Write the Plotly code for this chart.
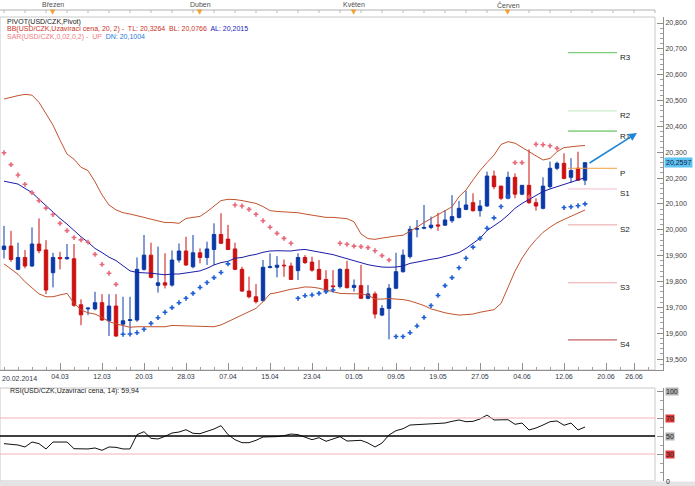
import numpy as np
import plotly.graph_objects as go

W, H = 695, 486

# ---------------- data ----------------
start_date = "2014-02-20"
opens = [19.924, 19.937, 19.847, 19.893, 19.860, 19.945, 19.922, 19.834, 19.893, 19.888,
         19.888, 19.710, 19.694, 19.694, 19.718, 19.648, 19.705, 19.635, 19.649, 19.651,
         19.847, 19.902, 19.785, 19.795, 19.786, 19.883, 19.918, 19.857, 19.911, 19.893,
         19.924, 19.982, 19.964, 19.926, 19.847, 19.763, 19.741, 19.726, 19.854, 19.855,
         19.863, 19.860, 19.842, 19.893, 19.875, 19.847, 19.808, 19.783, 19.780, 19.847,
         19.777, 19.784, 19.735, 19.752, 19.670, 19.696, 19.774, 19.838, 19.896, 20.002,
         20.006, 20.009, 20.019, 20.018, 20.035, 20.048, 20.079, 20.105, 20.074, 20.092,
         20.208, 20.169, 20.122, 20.203, 20.138, 20.172, 20.105, 20.083, 20.167, 20.238,
         20.257, 20.203, 20.238, 20.192]
highs = [20.015, 19.996, 19.950, 19.922, 20.009, 20.044, 19.960, 19.911, 19.915, 19.945,
         19.945, 19.731, 19.700, 19.760, 19.751, 19.751, 19.751, 19.741, 19.741, 19.893,
         19.980, 19.950, 19.935, 19.909, 19.920, 19.947, 19.973, 19.980, 19.928, 19.954,
         20.025, 20.064, 20.019, 19.950, 19.857, 19.819, 19.790, 19.883, 19.909, 19.898,
         19.885, 19.873, 19.909, 19.902, 19.896, 19.883, 19.844, 19.844, 19.851, 19.880,
         19.808, 19.864, 19.786, 19.761, 19.709, 19.790, 19.911, 19.924, 20.015, 20.038,
         20.096, 20.051, 20.066, 20.076, 20.134, 20.112, 20.151, 20.141, 20.115, 20.225,
         20.229, 20.170, 20.225, 20.218, 20.172, 20.311, 20.122, 20.203, 20.264, 20.264,
         20.296, 20.277, 20.302, 20.260]
lows = [19.889, 19.876, 19.844, 19.851, 19.857, 19.909, 19.751, 19.777, 19.847, 19.884,
        19.702, 19.631, 19.670, 19.689, 19.648, 19.589, 19.586, 19.606, 19.606, 19.644,
        19.842, 19.812, 19.757, 19.773, 19.780, 19.873, 19.860, 19.851, 19.870, 19.864,
        19.864, 19.945, 19.922, 19.844, 19.760, 19.735, 19.715, 19.722, 19.851, 19.816,
        19.818, 19.806, 19.806, 19.868, 19.838, 19.806, 19.760, 19.760, 19.773, 19.773,
        19.761, 19.732, 19.731, 19.657, 19.666, 19.576, 19.770, 19.834, 19.889, 19.971,
        20.002, 20.002, 19.996, 20.015, 20.027, 20.044, 20.076, 20.070, 20.051, 20.089,
        20.157, 20.115, 20.118, 20.122, 20.134, 20.100, 20.074, 20.079, 20.160, 20.231,
        20.195, 20.182, 20.190, 20.173]
closes = [19.937, 19.885, 19.893, 19.860, 19.945, 19.919, 19.767, 19.893, 19.888, 19.893,
          19.708, 19.671, 19.697, 19.718, 19.651, 19.705, 19.589, 19.648, 19.652, 19.847,
          19.902, 19.816, 19.795, 19.786, 19.883, 19.918, 19.864, 19.911, 19.893, 19.926,
          19.982, 19.948, 19.924, 19.847, 19.763, 19.741, 19.722, 19.855, 19.857, 19.863,
          19.861, 19.808, 19.893, 19.873, 19.844, 19.808, 19.764, 19.780, 19.847, 19.776,
          19.785, 19.735, 19.752, 19.674, 19.696, 19.774, 19.838, 19.902, 20.002, 20.005,
          20.009, 20.018, 20.015, 20.038, 20.051, 20.083, 20.096, 20.074, 20.092, 20.208,
          20.167, 20.122, 20.203, 20.138, 20.172, 20.105, 20.092, 20.169, 20.238, 20.257,
          20.199, 20.229, 20.192, 20.2597]

bb_upper = [20.506, 20.513, 20.519, 20.524, 20.521, 20.493, 20.451, 20.405, 20.347, 20.293,
            20.273, 20.242, 20.229, 20.186, 20.135, 20.096, 20.077, 20.066, 20.061, 20.053,
            20.048, 20.041, 20.033, 20.028, 20.028, 20.025, 20.044, 20.048, 20.052, 20.070,
            20.093, 20.113, 20.118, 20.117, 20.113, 20.108, 20.102, 20.090, 20.074, 20.071,
            20.070, 20.069, 20.066, 20.061, 20.057, 20.053, 20.048, 20.048, 20.046, 20.043,
            20.031, 19.984, 19.966, 19.963, 19.968, 19.973, 19.976, 19.979, 19.993, 20.010,
            20.028, 20.043, 20.059, 20.074, 20.089, 20.128, 20.154, 20.193, 20.229, 20.260,
            20.289, 20.330, 20.341, 20.335, 20.319, 20.302, 20.285, 20.270, 20.276, 20.302,
            20.318, 20.322, 20.324, 20.3264]
bb_middle = [20.188, 20.182, 20.177, 20.160, 20.144, 20.118, 20.092, 20.066, 20.044, 20.022,
             19.997, 19.973, 19.952, 19.928, 19.912, 19.894, 19.881, 19.860, 19.841, 19.835,
             19.834, 19.832, 19.829, 19.826, 19.829, 19.829, 19.833, 19.837, 19.841, 19.851,
             19.864, 19.873, 19.878, 19.890, 19.893, 19.900, 19.905, 19.913, 19.918, 19.919,
             19.918, 19.918, 19.922, 19.924, 19.919, 19.914, 19.909, 19.904, 19.896, 19.888,
             19.881, 19.873, 19.865, 19.860, 19.856, 19.855, 19.856, 19.860, 19.870, 19.875,
             19.881, 19.886, 19.890, 19.896, 19.904, 19.912, 19.928, 19.948, 19.967, 19.997,
             20.015, 20.034, 20.057, 20.083, 20.102, 20.118, 20.131, 20.148, 20.158, 20.167,
             20.178, 20.186, 20.193, 20.2015]
bb_lower = [19.868, 19.848, 19.828, 19.799, 19.774, 19.752, 19.741, 19.741, 19.748, 19.754,
            19.716, 19.690, 19.679, 19.674, 19.661, 19.645, 19.636, 19.628, 19.623, 19.625,
            19.625, 19.625, 19.625, 19.625, 19.630, 19.629, 19.628, 19.627, 19.625, 19.625,
            19.625, 19.632, 19.645, 19.658, 19.670, 19.683, 19.696, 19.722, 19.752, 19.757,
            19.765, 19.770, 19.774, 19.779, 19.778, 19.774, 19.767, 19.761, 19.754, 19.753,
            19.752, 19.752, 19.747, 19.732, 19.732, 19.734, 19.732, 19.730, 19.725, 19.717,
            19.707, 19.694, 19.686, 19.679, 19.674, 19.670, 19.672, 19.674, 19.681, 19.686,
            19.691, 19.715, 19.775, 19.840, 19.890, 19.930, 19.962, 19.990, 20.010, 20.027,
            20.040, 20.052, 20.064, 20.0766]
sar_values = [20.298, 20.252, 20.212, 20.176, 20.144, 20.113, 20.084, 20.059, 20.025, 19.997,
              19.970, 19.961, 19.952, 19.905, 19.866, 19.832, 19.789, 19.596, 19.597, 19.602,
              19.615, 19.638, 19.660, 19.681, 19.699, 19.718, 19.735, 19.754, 19.777, 19.796,
              19.815, 19.835, 19.868, 20.096, 20.092, 20.079, 20.060, 20.035, 20.010, 19.986,
              19.967, 19.948, 19.735, 19.745, 19.748, 19.754, 19.761, 19.767, 19.948, 19.944,
              19.937, 19.935, 19.931, 19.919, 19.900, 19.883, 19.587, 19.587, 19.602, 19.628,
              19.661, 19.707, 19.746, 19.784, 19.815, 19.853, 19.890, 19.933, 19.967, 20.006,
              20.046, 20.090, 20.128, 20.260, 20.260, 20.127, 20.331, 20.329, 20.325, 20.315,
              20.086, 20.089, 20.093, 20.1004]
rsi_values = [41.5, 41.1, 40.0, 37.8, 43.3, 41.5, 35.6, 43.3, 43.3, 43.3,
              35.9, 35.9, 35.6, 36.7, 34.1, 37.8, 37.4, 35.6, 35.6, 51.5,
              54.8, 47.4, 46.7, 49.6, 53.3, 54.4, 57.0, 53.0, 52.6, 55.2,
              57.8, 61.5, 51.5, 45.9, 42.6, 42.6, 45.2, 48.9, 48.9, 49.3,
              50.4, 52.2, 51.5, 48.9, 45.9, 48.1, 44.1, 46.7, 49.3, 44.4,
              45.2, 45.2, 42.2, 37.8, 42.2, 51.1, 55.9, 58.1, 62.2, 62.6,
              63.0, 63.3, 63.7, 64.4, 66.3, 67.8, 65.9, 66.3, 68.9, 73.3,
              67.8, 68.1, 68.1, 63.0, 64.4, 56.7, 58.9, 62.2, 65.9, 66.7,
              61.9, 64.4, 56.7, 59.94]
rsi_levels = [30, 50, 70]

pivot_names = ["R3", "R2", "R1", "P", "S1", "S2", "S3", "S4"]
pivot_values = [20.685, 20.460, 20.382, 20.238, 20.158, 20.019, 19.795, 19.574]

tick_dates = ["2014-02-20", "2014-03-04", "2014-03-12", "2014-03-20", "2014-03-28",
              "2014-04-07", "2014-04-15", "2014-04-23", "2014-05-01", "2014-05-09",
              "2014-05-19", "2014-05-27", "2014-06-04", "2014-06-12", "2014-06-20",
              "2014-06-26"]
tick_labels = ["20.02.2014", "04.03", "12.03", "20.03", "28.03", "07.04", "15.04", "23.04",
               "01.05", "09.05", "19.05", "27.05", "04.06", "12.06", "20.06", "26.06"]
month_names = ["Březen", "Duben", "Květen", "Červen"]
month_starts = ["2014-03-03", "2014-04-01", "2014-05-01", "2014-06-02"]

last_price = closes[-1]
legend_pivot = "PIVOT(USD/CZK,Pivot)"
legend_bb = "BB(USD/CZK,Uzavírací cena, 20, 2) -  TL: 20,3264  BL: 20,0766"
legend_bb_al = "AL: 20,2015"
legend_sar = "SAR(USD/CZK,0,02,0,2) -  UP"
legend_sar_dn = "DN: 20,1004"
rsi_title = "RSI(USD/CZK,Uzavírací cena, 14): 59,94"

# ---------------- helpers ----------------
def bidx(d):
    return int(np.busday_count(start_date, d))

def fx(p):
    return p / W

def fy(p):
    return 1 - p / H

n = len(closes)
x = list(range(n))

# pixel mapping of the reference: candle i at px 4 + 7 i ; price 20.8 at py 23, 258.5 px / unit
X_RANGE = [-4 / 7, (663 - 4) / 7]
Y_RANGE = [20.8 - (370 - 23) / 258.5, 20.8 + (23 - 17) / 258.5]
RSI_RANGE = [0, 50 + (436 - 388) / 0.9]

FONT = "Liberation Sans, Arial, sans-serif"

fig = go.Figure()

# Bollinger bands
fig.add_trace(go.Scatter(x=x, y=bb_upper, mode="lines", line=dict(color="#c2532e", width=1),
                         hoverinfo="skip", showlegend=False))
fig.add_trace(go.Scatter(x=x, y=bb_lower, mode="lines", line=dict(color="#c2532e", width=1),
                         hoverinfo="skip", showlegend=False))
fig.add_trace(go.Scatter(x=x, y=bb_middle, mode="lines", line=dict(color="#1c1ca8", width=1),
                         hoverinfo="skip", showlegend=False))

# Candles
fig.add_trace(go.Candlestick(
    x=x, open=opens, high=highs, low=lows, close=closes,
    increasing=dict(line=dict(color="#0a3aa8", width=1), fillcolor="#0a3aa8"),
    decreasing=dict(line=dict(color="#cc1111", width=1), fillcolor="#cc1111"),
    whiskerwidth=0, hoverinfo="skip", showlegend=False))

# Parabolic SAR
sar_dn = [s if s > c else None for s, c in zip(sar_values, closes)]
sar_up = [s if s <= c else None for s, c in zip(sar_values, closes)]
fig.add_trace(go.Scatter(x=x, y=sar_dn, mode="markers",
                         marker=dict(symbol="cross", size=4, color="#e8697a", line=dict(width=0)),
                         hoverinfo="skip", showlegend=False))
fig.add_trace(go.Scatter(x=x, y=sar_up, mode="markers",
                         marker=dict(symbol="cross", size=4, color="#1f5fd6", line=dict(width=0)),
                         hoverinfo="skip", showlegend=False))

# RSI
fig.add_trace(go.Scatter(x=x, y=rsi_values, mode="lines", line=dict(color="#111111", width=1),
                         xaxis="x2", yaxis="y2", hoverinfo="skip", showlegend=False))

shapes = []
annotations = []

# frames
shapes.append(dict(type="rect", xref="paper", yref="paper", x0=0, x1=fx(655), y0=fy(370), y1=fy(17),
                   line=dict(color="#c8c8c8", width=1), layer="below"))
shapes.append(dict(type="rect", xref="paper", yref="paper", x0=0, x1=fx(655), y0=fy(481), y1=fy(388),
                   line=dict(color="#c8c8c8", width=1), layer="below"))
shapes.append(dict(type="rect", xref="paper", yref="paper", x0=0, x1=1, y0=0, y1=fy(481.5),
                   line=dict(width=0), fillcolor="#e4e4e4", layer="below"))
# top ruler
shapes.append(dict(type="line", xref="paper", yref="paper", x0=0, x1=fx(655), y0=fy(10), y1=fy(10),
                   line=dict(color="#b0b0b0", width=1)))
for k in range(0, 94, 3):
    shapes.append(dict(type="line", xref="x", yref="paper", x0=k, x1=k, y0=fy(10), y1=fy(13),
                       line=dict(color="#b8b8b8", width=1)))

# pivot lines
piv_colors = ["#5cc25c", "#bfe8bf", "#3cb83c", "#f0a040", "#f4bccb", "#e9a3a3", "#e8a7a7", "#b23a3a"]
PIV_X0, PIV_X1 = (568 - 4) / 7, (617 - 4) / 7
for name, val, col in zip(pivot_names, pivot_values, piv_colors):
    shapes.append(dict(type="line", xref="x", yref="y", x0=PIV_X0, x1=PIV_X1, y0=val, y1=val,
                       line=dict(color=col, width=1)))
    annotations.append(dict(x=PIV_X1 + 0.15, y=val, xref="x", yref="y", text=name, showarrow=False,
                            xanchor="left", yanchor="middle", yshift=-5,
                            font=dict(family=FONT, size=8, color="#1a1a1a")))

# trend arrow
annotations.append(dict(x=(637 - 4) / 7, y=20.8 - (133 - 23) / 258.5, xref="x", yref="y",
                        ax=(588 - 4) / 7, ay=20.8 - (164 - 23) / 258.5, axref="x", ayref="y",
                        text="", showarrow=True, arrowhead=2, arrowsize=1, arrowwidth=1.6,
                        arrowcolor="#1f86d6"))

# last price box
annotations.append(dict(x=fx(663.5), y=last_price, xref="paper", yref="y",
                        text=f"{last_price:.4f}".replace(".", ","), showarrow=False,
                        xanchor="left", yanchor="middle", bgcolor="#5ec3f2", borderpad=1,
                        font=dict(family=FONT, size=7, color="#102040")))

# RSI level lines
for lvl in rsi_levels:
    if lvl == 50:
        ln = dict(color="#000000", width=1.5)
    else:
        ln = dict(color="#f2b3b8", width=1)
    shapes.append(dict(type="line", xref="paper", yref="y2", x0=0, x1=fx(655), y0=lvl, y1=lvl, line=ln))

# RSI right labels
for val, bg in [(100, "#b4b4b4"), (70, "#e23a3a"), (50, "#b4b4b4"), (30, "#e23a3a"), (0, None)]:
    a = dict(x=fx(665), y=val, xref="paper", yref="y2", text=str(val), showarrow=False,
             xanchor="left", yanchor="middle", borderpad=0,
             font=dict(family=FONT, size=7, color="#202020"))
    if bg:
        a["bgcolor"] = bg
    annotations.append(a)

annotations.append(dict(x=fx(8), y=fy(391), xref="paper", yref="paper", text=rsi_title,
                        showarrow=False, xanchor="left", yanchor="middle",
                        font=dict(family=FONT, size=7, color="#202020")))

# legend texts
annotations.append(dict(x=fx(5), y=fy(22), xref="paper", yref="paper", text=legend_pivot,
                        showarrow=False, xanchor="left", yanchor="middle",
                        font=dict(family=FONT, size=7, color="#202020")))
annotations.append(dict(x=fx(5), y=fy(29.5), xref="paper", yref="paper",
                        text=f"<span style='color:#c8321e'>{legend_bb}</span>  "
                             f"<span style='color:#2020b8'>{legend_bb_al}</span>",
                        showarrow=False, xanchor="left", yanchor="middle",
                        font=dict(family=FONT, size=7)))
annotations.append(dict(x=fx(5), y=fy(37), xref="paper", yref="paper",
                        text=f"<span style='color:#ee7b85'>{legend_sar}</span>  "
                             f"<span style='color:#1f7ae0'>{legend_sar_dn}</span>",
                        showarrow=False, xanchor="left", yanchor="middle",
                        font=dict(family=FONT, size=7)))

# months on top ruler
for name, d in zip(month_names, month_starts):
    i = bidx(d)
    annotations.append(dict(x=i, y=fy(4.5), xref="x", yref="paper", text=name, showarrow=False,
                            xanchor="center", yanchor="middle",
                            font=dict(family=FONT, size=7, color="#505050")))
    annotations.append(dict(x=i, y=fy(12), xref="x", yref="paper", text="▼", showarrow=False,
                            xanchor="center", yanchor="middle",
                            font=dict(family="DejaVu Sans", size=7, color="#f0a030")))

# x tick labels (first one anchored left so it is not cut)
tick_idx = [bidx(d) for d in tick_dates]
annotations.append(dict(x=0, y=fy(378), xref="paper", yref="paper", text=tick_labels[0],
                        showarrow=False, xanchor="left", yanchor="middle",
                        font=dict(family=FONT, size=7, color="#303848")))

fig.update_layout(
    width=W, height=H,
    margin=dict(l=0, r=0, t=0, b=0),
    paper_bgcolor="white", plot_bgcolor="white",
    separators=", ",
    showlegend=False,
    xaxis=dict(domain=[0, fx(663)], range=X_RANGE, anchor="y",
               tickmode="array", tickvals=tick_idx[1:], ticktext=tick_labels[1:],
               ticks="inside", ticklen=7, tickcolor="#909090",
               minor=dict(tickmode="linear", tick0=0, dtick=2, ticks="inside", ticklen=3,
                          tickcolor="#a0a0a0"),
               showline=True, linecolor="#909090", linewidth=1, mirror=False,
               showgrid=False, zeroline=False, rangeslider=dict(visible=False),
               tickfont=dict(family=FONT, size=7, color="#303848")),
    yaxis=dict(domain=[fy(370), fy(17)], range=Y_RANGE, anchor="x", side="right",
               tickmode="linear", tick0=19.5, dtick=0.1, tickformat=".3f",
               ticks="inside", ticklen=6, tickcolor="#909090",
               minor=dict(dtick=0.02, ticks="inside", ticklen=3, tickcolor="#a0a0a0"),
               showline=True, linecolor="#909090", linewidth=1,
               showgrid=False, zeroline=False,
               tickfont=dict(family=FONT, size=7, color="#404040")),
    xaxis2=dict(domain=[0, fx(663)], range=X_RANGE, anchor="y2", showticklabels=False,
                ticks="", showline=False, showgrid=False, zeroline=False),
    yaxis2=dict(domain=[fy(481), fy(388)], range=RSI_RANGE, anchor="x2", side="right",
                tickmode="array", tickvals=[0, 30, 50, 70, 100], showticklabels=False,
                ticks="inside", ticklen=6, tickcolor="#909090",
                minor=dict(tickmode="linear", tick0=0, dtick=10, ticks="inside", ticklen=3,
                           tickcolor="#a0a0a0"),
                showline=True, linecolor="#909090", linewidth=1,
                showgrid=False, zeroline=False),
    shapes=shapes,
    annotations=annotations,
)

fig.write_html("out.html", config={"displayModeBar": False},
               post_script="document.body.style.margin='0px';document.body.style.padding='0px';")
